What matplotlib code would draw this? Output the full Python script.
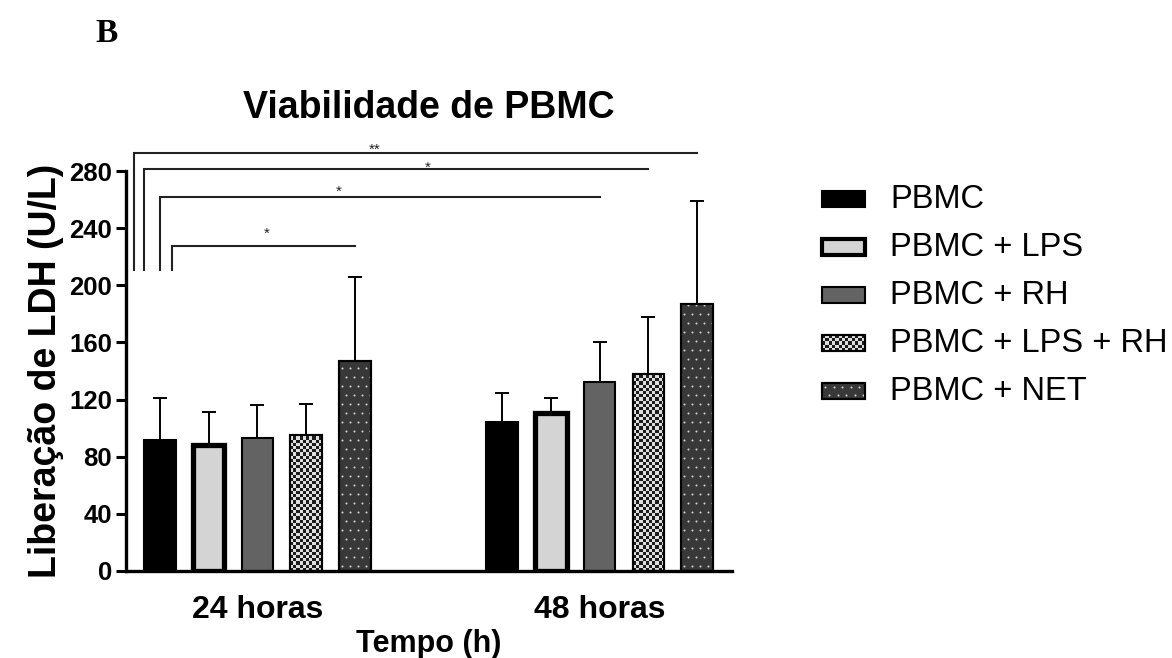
import numpy as np
import matplotlib
matplotlib.use('Agg')
import matplotlib.pyplot as plt
from matplotlib.patches import Rectangle
from matplotlib.colors import ListedColormap

plt.rcParams['font.family'] = ['Liberation Sans', 'DejaVu Sans']

# ---------------- data ----------------
groups = ['24 horas', '48 horas']
series = ['PBMC', 'PBMC + LPS', 'PBMC + RH', 'PBMC + LPS + RH', 'PBMC + NET']
means_24h = [91.5, 88, 93, 95, 147]
sd_24h = [29.5, 23.5, 23, 22, 59]
means_48h = [104, 110.5, 132, 138, 187]
sd_48h = [20.5, 10.5, 28, 40, 72]
yticks = [0, 40, 80, 120, 160, 200, 240, 280]
# significance brackets: PBMC 24h vs (group, series) ; bracket height ; label
sig_targets = [(1, 4), (1, 3), (1, 2), (0, 4)]
sig_heights = [292.6, 281.4, 261.8, 227.5]
sig_labels = ['**', '*', '*', '*']
sig_bottom = 211

W, H = 1172, 658
fig = plt.figure(figsize=(W / 100, H / 100), dpi=100)
ax = fig.add_axes([126 / W, 1 - 571 / H, (732 - 126) / W, 400 / H])

bw = 0.65
gap = 7
checker_cmap = ListedColormap(['#1c1c1c', '#dedede'])

styles = [
    dict(facecolor='black', edgecolor='black', linewidth=1.5),
    dict(facecolor='#d4d4d4', edgecolor='black', linewidth=3.8),
    dict(facecolor='#636363', edgecolor='black', linewidth=1.5),
    dict(facecolor='#8a8a8a', edgecolor='black', linewidth=1.5),
    dict(facecolor='#383838', edgecolor='black', linewidth=1.5),
]

px_per_x = (732 - 126) / 12.4
px_per_y = 400 / 280.0


def add_checker(axis, rect, cell_px=3.2, ppx=px_per_x, ppy=px_per_y):
    x0, y0 = rect.get_x(), rect.get_y()
    w, h = rect.get_width(), rect.get_height()
    nx = max(1, int(round(w * ppx / cell_px)))
    dy = cell_px / ppy
    ny = int(np.ceil(h / dy))
    arr = (np.add.outer(np.arange(ny), np.arange(nx)) % 2).astype(float)
    im = axis.imshow(arr, extent=[x0, x0 + w, y0, y0 + ny * dy], origin='lower',
                     cmap=checker_cmap, interpolation='nearest', aspect='auto',
                     zorder=rect.get_zorder() + 0.1)
    im.set_clip_path(rect)


def add_dots(axis, rect, sx_px=8.0, sy_px=9.0, ppx=px_per_x, ppy=px_per_y):
    x0, y0 = rect.get_x(), rect.get_y()
    w, h = rect.get_width(), rect.get_height()
    dx, dy = sx_px / ppx, sy_px / ppy
    xs, ys = [], []
    row = 0
    yy = y0 + dy * 0.6
    while yy < y0 + h:
        xx = x0 + dx * (0.35 if row % 2 == 0 else 0.85)
        while xx < x0 + w:
            xs.append(xx)
            ys.append(yy)
            xx += dx
        yy += dy
        row += 1
    sc = axis.scatter(xs, ys, s=2.2, color='#d0d0d0', linewidths=0,
                      zorder=rect.get_zorder() + 0.1)
    sc.set_clip_path(rect)


for gi, (means, sds) in enumerate([(means_24h, sd_24h), (means_48h, sd_48h)]):
    for si in range(len(series)):
        x = gi * gap + si
        ax.errorbar(x, means[si], yerr=[[0], [sds[si]]], fmt='none', ecolor='black',
                    elinewidth=1.4, capsize=4.7, capthick=1.4, zorder=1)
        bars = ax.bar(x, means[si], width=bw, zorder=2, **styles[si])
        rect = bars[0]
        if si == 3:
            add_checker(ax, rect)
            ax.bar(x, means[si], width=bw, facecolor='none', edgecolor='black',
                   linewidth=1.5, zorder=3)
        if si == 4:
            add_dots(ax, rect)
            ax.bar(x, means[si], width=bw, facecolor='none', edgecolor='black',
                   linewidth=1.5, zorder=3)

ax.set_xlim(-0.69, 11.71)
ax.set_ylim(0, 280)
ax.set_yticks(yticks)
ax.set_yticklabels([str(t) for t in yticks], fontsize=18.5, fontweight='bold')
ax.set_xticks([2, gap + 2])
ax.set_xticklabels(groups, fontsize=23, fontweight='bold')
ax.tick_params(axis='x', length=0, pad=17)
ax.tick_params(axis='y', length=7, width=2.2, pad=3)
for s in ['top', 'right']:
    ax.spines[s].set_visible(False)
for s in ['left', 'bottom']:
    ax.spines[s].set_linewidth(2.4)

ax.set_ylabel('Liberação de LDH (U/L)', fontsize=27, fontweight='bold', labelpad=4)
ax.set_xlabel('Tempo (h)', fontsize=22, fontweight='bold', labelpad=3)
ax.set_title('Viabilidade de PBMC', fontsize=27, fontweight='bold', pad=38)

# significance brackets
left_offsets = [-0.53, -0.32, 0.0, 0.25]
star_x = [4.39, 5.49, 3.67, 2.18]
star_y = [298, 285.6, 268.8, 239.4]
for k, ((g, s), yh, lab) in enumerate(zip(sig_targets, sig_heights, sig_labels)):
    xl = left_offsets[k]
    xr = g * gap + s
    ax.plot([xl, xl, xr], [sig_bottom, yh, yh], color='#222222', lw=1.5,
            clip_on=False, solid_joinstyle='miter', zorder=4)
    ax.text(star_x[k], star_y[k] - 3, lab, ha='center', va='center', fontsize=11,
            color='#222222', clip_on=False)

# panel letter
fig.text(95 / W, 1 - 34 / H, 'B', fontsize=24, fontweight='bold',
         family='Liberation Serif', ha='left', va='center')

# legend (manual)
lax = fig.add_axes([0, 0, 1, 1], zorder=5)
lax.set_xlim(0, W)
lax.set_ylim(H, 0)
lax.axis('off')
row_y = [199, 247, 295, 343, 391]
sw_x0, sw_w, sw_h = 822, 43, 16
for si, lab in enumerate(series):
    yc = row_y[si]
    st = dict(styles[si])
    if si == 1:
        st['linewidth'] = 3.0
    r = Rectangle((sw_x0, yc - sw_h / 2), sw_w, sw_h, zorder=2, **st)
    lax.add_patch(r)
    if si == 3:
        x0, y0 = sw_x0, yc - sw_h / 2
        nx = int(round(sw_w / 3.2)); ny = int(round(sw_h / 3.2))
        arr = (np.add.outer(np.arange(ny), np.arange(nx)) % 2).astype(float)
        im = lax.imshow(arr, extent=[x0, x0 + sw_w, y0 + sw_h, y0], cmap=checker_cmap,
                        interpolation='nearest', aspect='auto', zorder=2.1)
        im.set_clip_path(r)
        lax.add_patch(Rectangle((x0, y0), sw_w, sw_h, facecolor='none',
                                edgecolor='black', linewidth=1.5, zorder=3))
    if si == 4:
        xs, ys = [], []
        for ri, yy in enumerate(np.arange(yc - sw_h / 2 + 4, yc + sw_h / 2, 8)):
            for xx in np.arange(sw_x0 + (3 if ri % 2 == 0 else 7), sw_x0 + sw_w, 8.5):
                xs.append(xx); ys.append(yy)
        sc = lax.scatter(xs, ys, s=2.2, color='#d0d0d0', linewidths=0, zorder=2.1)
        sc.set_clip_path(r)
        lax.add_patch(Rectangle((sw_x0, yc - sw_h / 2), sw_w, sw_h, facecolor='none',
                                edgecolor='black', linewidth=1.5, zorder=3))
    lax.text(890, yc, lab, fontsize=23.5, ha='left', va='center')
lax.set_xlim(0, W)
lax.set_ylim(H, 0)

fig.savefig('out.png', dpi=100)
